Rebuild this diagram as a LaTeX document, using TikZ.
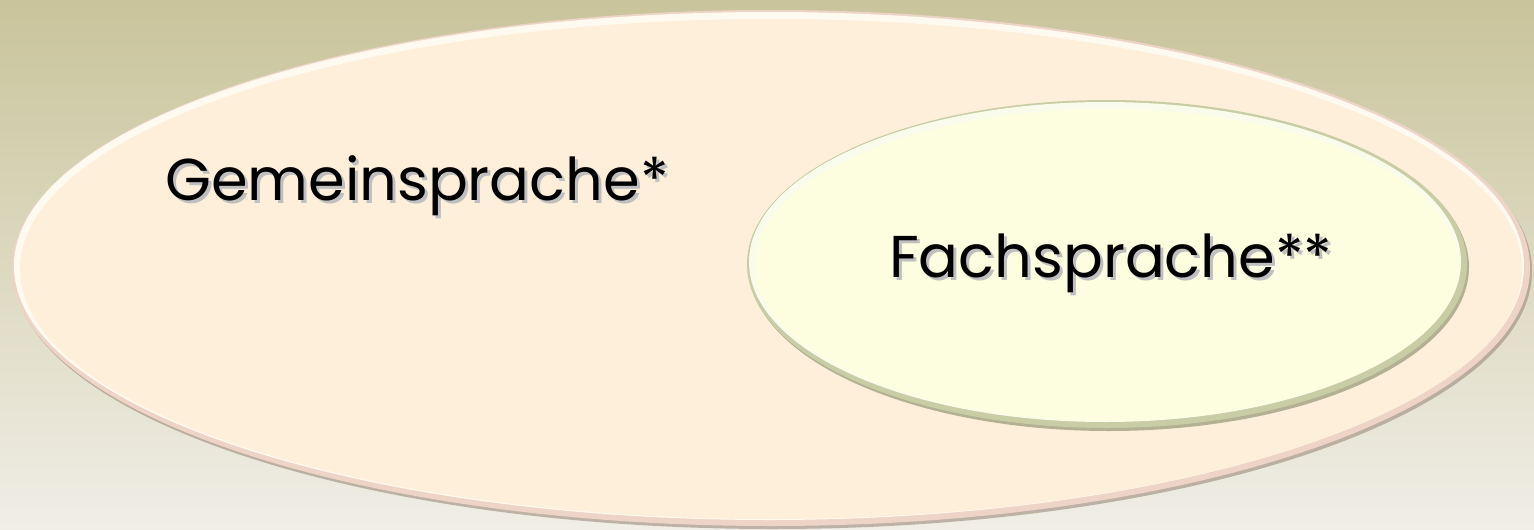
\documentclass[tikz,border=0pt]{standalone}
\usepackage{fontspec}
\setmainfont{Poppins}
\usetikzlibrary{shapes.geometric}
\definecolor{bgtop}{RGB}{201,196,155}
\definecolor{bgbot}{RGB}{240,238,230}
\definecolor{outershadow}{RGB}{150,130,115}
\definecolor{outerrim}{RGB}{238,212,198}
\definecolor{outerlight}{RGB}{255,250,240}
\definecolor{outerfill}{RGB}{253,239,218}
\definecolor{innershadow}{RGB}{130,135,100}
\definecolor{innerrim}{RGB}{200,205,165}
\definecolor{innerlight}{RGB}{250,252,235}
\definecolor{innerfill}{RGB}{253,253,224}
\begin{document}
\begin{tikzpicture}[x=1pt,y=-1pt,
  labeltext/.style={font=\fontsize{59}{61}\selectfont, text=black, inner sep=0pt},
  labelshadow/.style={font=\fontsize{59}{61}\selectfont, text=black!25, inner sep=0pt}]
  % background
  \shade[top color=bgtop, bottom color=bgbot] (0,0) rectangle (1534,530);
  \useasboundingbox (0,0) rectangle (1534,530);

  % outer ellipse: shadow, bevel and fill
  \fill[outershadow, opacity=0.55] (773,271) ellipse [x radius=759, y radius=258];
  \fill[outerrim] (771,268) ellipse [x radius=759, y radius=258];
  \fill[outerlight] (769,266) ellipse [x radius=755, y radius=254];
  \fill[outerfill] (771,269) ellipse [x radius=751, y radius=250];
  \node (gemein) at (771,268) [ellipse, minimum width=1518pt, minimum height=516pt] {};

  % inner ellipse: shadow, bevel and fill
  \fill[innershadow, opacity=0.6] (1109,267) ellipse [x radius=360, y radius=164];
  \fill[innerrim] (1107,264) ellipse [x radius=360, y radius=164];
  \fill[innerlight] (1105,262) ellipse [x radius=356, y radius=160];
  \fill[innerfill] (1107,265) ellipse [x radius=352, y radius=156];
  \node (fach) at (1107,264) [ellipse, minimum width=720pt, minimum height=328pt] {};

  % labels with soft drop shadow
  \node[labelshadow, anchor=base west] at (168,203) {Gemeinsprache*};
  \node[labeltext, anchor=base west] (gtext) at (165,200) {Gemeinsprache*};
  \node[labelshadow, anchor=base west] at (892,280) {Fachsprache**};
  \node[labeltext, anchor=base west] (ftext) at (889,277) {Fachsprache**};
\end{tikzpicture}
\end{document}
